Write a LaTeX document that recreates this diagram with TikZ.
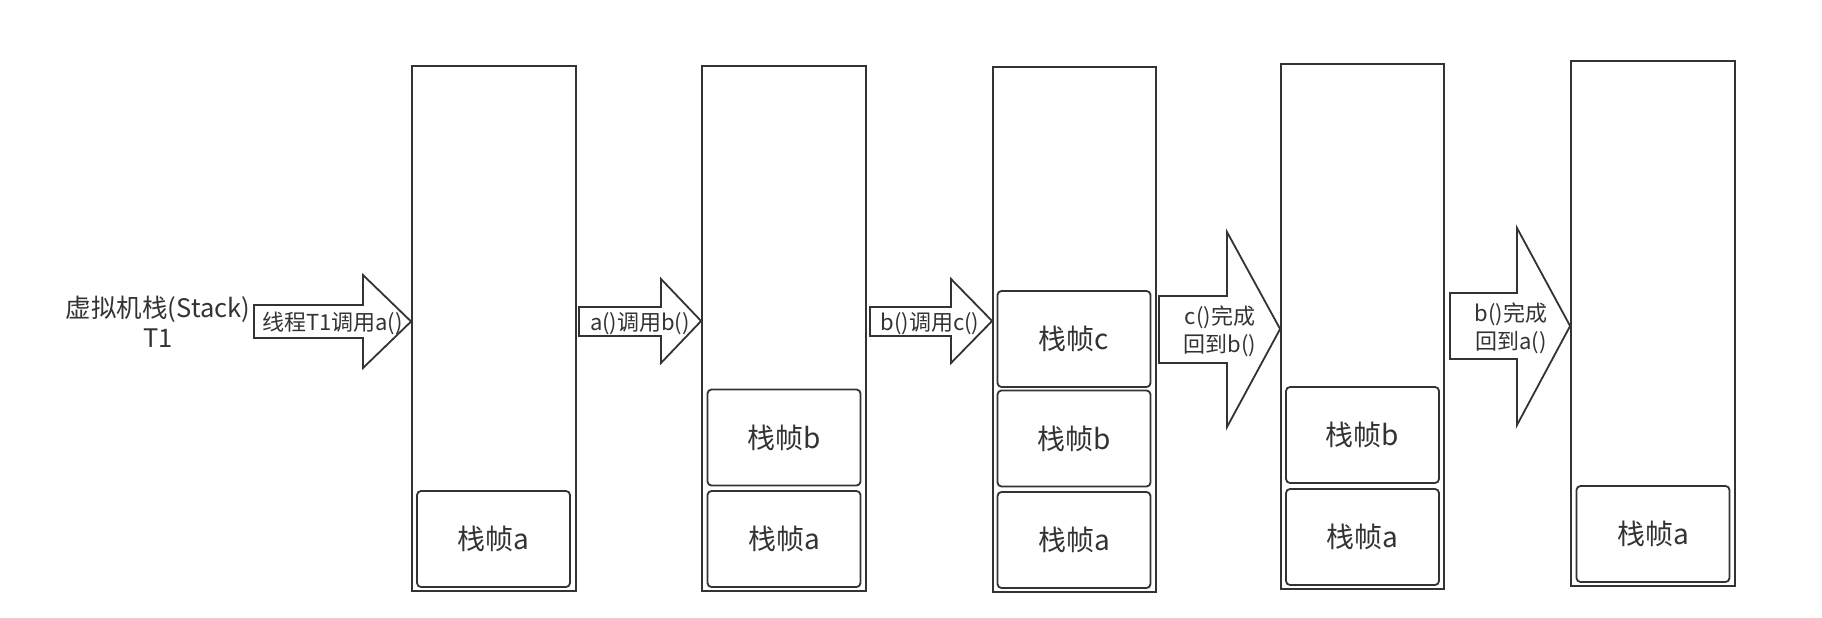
\documentclass[tikz,border=0pt]{standalone}
\usepackage{fontspec}
\newfontfamily\cjk{Noto Sans CJK SC}
\definecolor{linec}{HTML}{333333}
\definecolor{txtc}{HTML}{333333}
\tikzset{
  stackbox/.style={draw=linec, line width=1.8pt, rectangle, inner sep=0pt, minimum width=164pt, minimum height=525pt},
  framebox/.style={draw=linec, line width=1.8pt, rectangle, rounded corners=4pt, inner sep=0pt, minimum width=153pt, minimum height=96pt, font=\cjk\fontsize{28}{30}\selectfont, text=txtc},
  bigarrow/.style={draw=linec, line width=1.8pt, fill=white, line join=miter},
  arrowlabel/.style={font=\cjk\fontsize{22}{28}\selectfont, text=txtc, align=center, inner sep=0pt},
  titlelabel/.style={font=\cjk\fontsize{25.5}{30}\selectfont, text=txtc, align=center, inner sep=0pt},
}
\begin{document}
\begin{tikzpicture}[x=1pt,y=-1pt]
\useasboundingbox[fill=white] (0,0) rectangle (1822,618);

% stacks
\node[stackbox] (s1) at (494,328.5) {};
\node[stackbox] (s2) at (784,328.5) {};
\node[stackbox, minimum width=163pt] (s3) at (1074.5,329.5) {};
\node[stackbox, minimum width=163pt] (s4) at (1362.5,326.5) {};
\node[stackbox] (s5) at (1653,323.5) {};

% frames
\node[framebox] (f1a) at (493.5,539) {栈帧a};
\node[framebox] (f2b) at (784,437.5) {栈帧b};
\node[framebox] (f2a) at (784,539) {栈帧a};
\node[framebox] (f3c) at (1074,339) {栈帧c};
\node[framebox] (f3b) at (1074,438.5) {栈帧b};
\node[framebox] (f3a) at (1074,540) {栈帧a};
\node[framebox] (f4b) at (1362.5,435) {栈帧b};
\node[framebox] (f4a) at (1362.5,537) {栈帧a};
\node[framebox] (f5a) at (1653,534) {栈帧a};

% title
\node[titlelabel] (title) at (158,322) {虚拟机栈(Stack)\\T1};

% arrows
\draw[bigarrow] (254,305) -- (363,305) -- (363,275) -- (s1.west |- 0,321.5) -- (363,368) -- (363,338) -- (254,338) -- cycle;
\node[arrowlabel, anchor=west] (l1) at (262,323.5) {线程T1调用a()};

\draw[bigarrow] (579,307) -- (661,307) -- (661,279) -- (s2.west |- 0,321) -- (661,363) -- (661,336) -- (579,336) -- cycle;
\node[arrowlabel] (l2) at (640,324) {a()调用b()};

\draw[bigarrow] (870,307) -- (951,307) -- (951,279) -- (s3.west |- 0,321) -- (951,363) -- (951,336) -- (870,336) -- cycle;
\node[arrowlabel] (l3) at (930,324) {b()调用c()};

\draw[bigarrow] (1159,296) -- (1227,296) -- (1227,232) -- (s4.west |- 0,329) -- (1227,427) -- (1227,363) -- (1159,363) -- cycle;
\node[arrowlabel] (l4) at (1220,331.5) {c()完成\\回到b()};

\draw[bigarrow] (1450,293) -- (1517,293) -- (1517,228) -- (s5.west |- 0,326) -- (1517,425) -- (1517,359) -- (1450,359) -- cycle;
\node[arrowlabel] (l5) at (1511,328.5) {b()完成\\回到a()};
\end{tikzpicture}
\end{document}
